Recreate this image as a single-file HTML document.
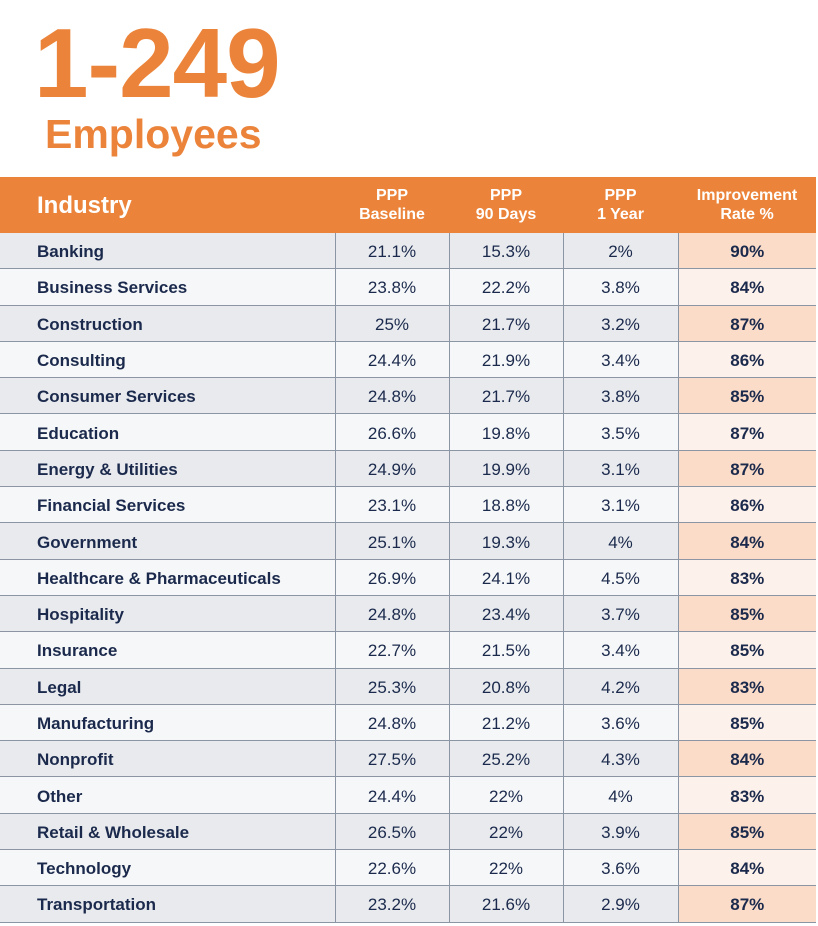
<!DOCTYPE html>
<html><head><style>
body{margin:0;width:818px;height:926px;background:#fff;font-family:"Liberation Sans",sans-serif;position:relative;overflow:hidden}
.t1{position:absolute;left:34px;top:13px;font-size:98px;font-weight:bold;color:#eb843a;letter-spacing:-1px;line-height:100px}
.t2{position:absolute;left:45px;top:109px;font-size:41px;font-weight:bold;color:#eb843a;line-height:50px}
table{position:absolute;left:0;top:177px;width:816px;border-collapse:collapse;table-layout:fixed}
th{background:#eb843a;color:#fff;font-weight:bold;font-size:16px;line-height:19px;height:56px;padding:0}
th.i{text-align:left;padding-left:37px;font-size:24px}
td{height:32.3px;padding:3px 0 0 0;text-align:center;font-size:17px;color:#1b2a4c;border-bottom:1px solid #8c95a4;border-left:1px solid #8c95a4}
td:first-child{text-align:left;padding-left:37px;font-weight:bold;border-left:none}
tr:nth-child(odd) td{background:#e8eaee}
tr:nth-child(even) td{background:#f6f7f9}
tr:nth-child(odd) td:last-child{background:#fbdcc8}
tr:nth-child(even) td:last-child{background:#fdf1eb}
td:last-child{font-weight:bold}
</style></head><body>
<div class="t1">1-249</div>
<div class="t2">Employees</div>
<table>
<colgroup><col style="width:335px"><col style="width:114px"><col style="width:114px"><col style="width:115px"><col style="width:138px"></colgroup>
<thead><tr><th class="i">Industry</th><th>PPP<br>Baseline</th><th>PPP<br>90 Days</th><th>PPP<br>1 Year</th><th>Improvement<br>Rate %</th></tr></thead>
<tbody>
<tr><td>Banking</td><td>21.1%</td><td>15.3%</td><td>2%</td><td>90%</td></tr>
<tr><td>Business Services</td><td>23.8%</td><td>22.2%</td><td>3.8%</td><td>84%</td></tr>
<tr><td>Construction</td><td>25%</td><td>21.7%</td><td>3.2%</td><td>87%</td></tr>
<tr><td>Consulting</td><td>24.4%</td><td>21.9%</td><td>3.4%</td><td>86%</td></tr>
<tr><td>Consumer Services</td><td>24.8%</td><td>21.7%</td><td>3.8%</td><td>85%</td></tr>
<tr><td>Education</td><td>26.6%</td><td>19.8%</td><td>3.5%</td><td>87%</td></tr>
<tr><td>Energy &amp; Utilities</td><td>24.9%</td><td>19.9%</td><td>3.1%</td><td>87%</td></tr>
<tr><td>Financial Services</td><td>23.1%</td><td>18.8%</td><td>3.1%</td><td>86%</td></tr>
<tr><td>Government</td><td>25.1%</td><td>19.3%</td><td>4%</td><td>84%</td></tr>
<tr><td>Healthcare &amp; Pharmaceuticals</td><td>26.9%</td><td>24.1%</td><td>4.5%</td><td>83%</td></tr>
<tr><td>Hospitality</td><td>24.8%</td><td>23.4%</td><td>3.7%</td><td>85%</td></tr>
<tr><td>Insurance</td><td>22.7%</td><td>21.5%</td><td>3.4%</td><td>85%</td></tr>
<tr><td>Legal</td><td>25.3%</td><td>20.8%</td><td>4.2%</td><td>83%</td></tr>
<tr><td>Manufacturing</td><td>24.8%</td><td>21.2%</td><td>3.6%</td><td>85%</td></tr>
<tr><td>Nonprofit</td><td>27.5%</td><td>25.2%</td><td>4.3%</td><td>84%</td></tr>
<tr><td>Other</td><td>24.4%</td><td>22%</td><td>4%</td><td>83%</td></tr>
<tr><td>Retail &amp; Wholesale</td><td>26.5%</td><td>22%</td><td>3.9%</td><td>85%</td></tr>
<tr><td>Technology</td><td>22.6%</td><td>22%</td><td>3.6%</td><td>84%</td></tr>
<tr><td>Transportation</td><td>23.2%</td><td>21.6%</td><td>2.9%</td><td>87%</td></tr>
</tbody></table>
</body></html>
